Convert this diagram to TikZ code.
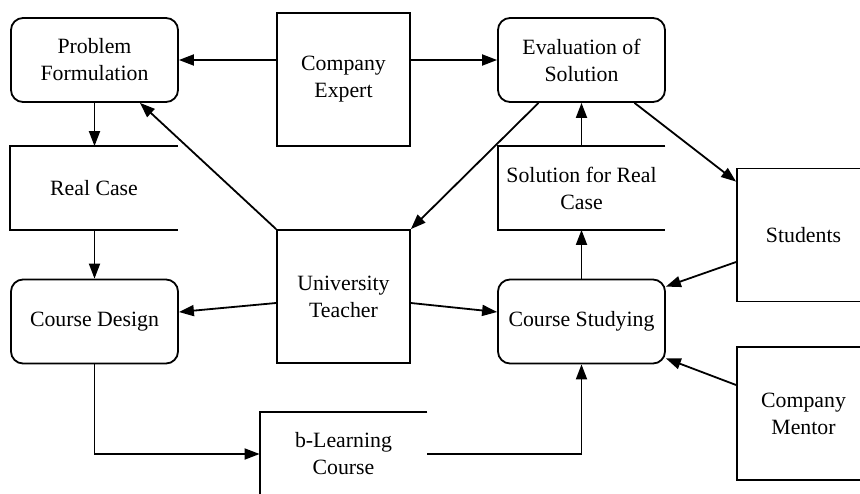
\documentclass[tikz,border=0pt]{standalone}
\usepackage{fontspec}
\setmainfont{Liberation Serif}
\usetikzlibrary{arrows.meta}

\begin{document}
\begin{tikzpicture}[x=1pt, y=-1pt, line width=1.8pt,
    every node/.style={font=\fontsize{21.8}{27}\selectfont, align=center, inner sep=0pt},
    process/.style={rectangle, draw, rounded corners=12pt, minimum width=167pt, minimum height=84pt},
    actor/.style={rectangle, draw, minimum width=133pt, minimum height=133pt},
    store/.style={rectangle, minimum width=166pt, minimum height=82pt},
    arr/.style={-{Triangle[length=15pt,width=11pt]}}]
    \useasboundingbox (0,0) rectangle (860,493);
    \clip (0,0) rectangle (860,493);

    % Processes
    \node[process] (pf) at (94.5,60) {Problem\\Formulation};
    \node[process] (ev) at (581.5,60) {Evaluation of\\Solution};
    \node[process] (cd) at (94.5,321.5) {Course Design};
    \node[process] (cs) at (581.5,321.5) {Course Studying};

    % Actors
    \node[actor] (ce) at (343.5,79.5) {Company\\Expert};
    \node[actor] (ut) at (343.5,296.5) {University\\Teacher};
    \node[actor] (st) at (803.5,235) {Students};
    \node[actor] (cm) at (803.5,413.5) {Company\\Mentor};

    % Data stores (open on the right)
    \node[store] (rc) at (94,188) {Real Case};
    \node[store] (sol) at (581.5,188) {Solution for Real\\Case};
    \node[store] (bl) at (343.5,454) {b-Learning\\Course};
    \foreach \s in {rc,sol,bl}
        \draw (\s.north east) -- (\s.north west) -- (\s.south west) -- (\s.south east);

    % Flows
    \draw[arr] (pf.east -| ce.west) -- (pf.east);
    \draw[arr] (ev.west -| ce.east) -- (ev.west);
    \draw[arr] (pf.south) -- (rc.north -| pf.south);
    \draw[arr] (rc.south -| cd.north) -- (cd.north);
    \draw[arr] (ut.north west) -- ([xshift=45.5pt]pf.south);
    \draw[arr] ([xshift=-43pt]ev.south) -- (ut.north east);
    \draw[arr] ([xshift=53pt]ev.south) -- ([yshift=-14pt]st.north west);
    \draw[arr] ([yshift=-27pt]st.west) -- ([yshift=-8pt]cs.north east);
    \draw[arr] ([yshift=28.5pt]cm.west) -- ([yshift=6pt]cs.south east);
    \draw[arr] (cs.north) -- (sol.south -| cs.north);
    \draw[arr] (sol.north -| ev.south) -- (ev.south);
    \draw[arr] ([yshift=-6.5pt]ut.west) -- ([yshift=9.5pt]cd.east);
    \draw[arr] ([yshift=-6.5pt]ut.east) -- ([yshift=9.5pt]cs.west);
    \draw[arr] (cd.south) |- (bl.west);
    \draw[arr] (bl.east) -| (cs.south);
\end{tikzpicture}
\end{document}
